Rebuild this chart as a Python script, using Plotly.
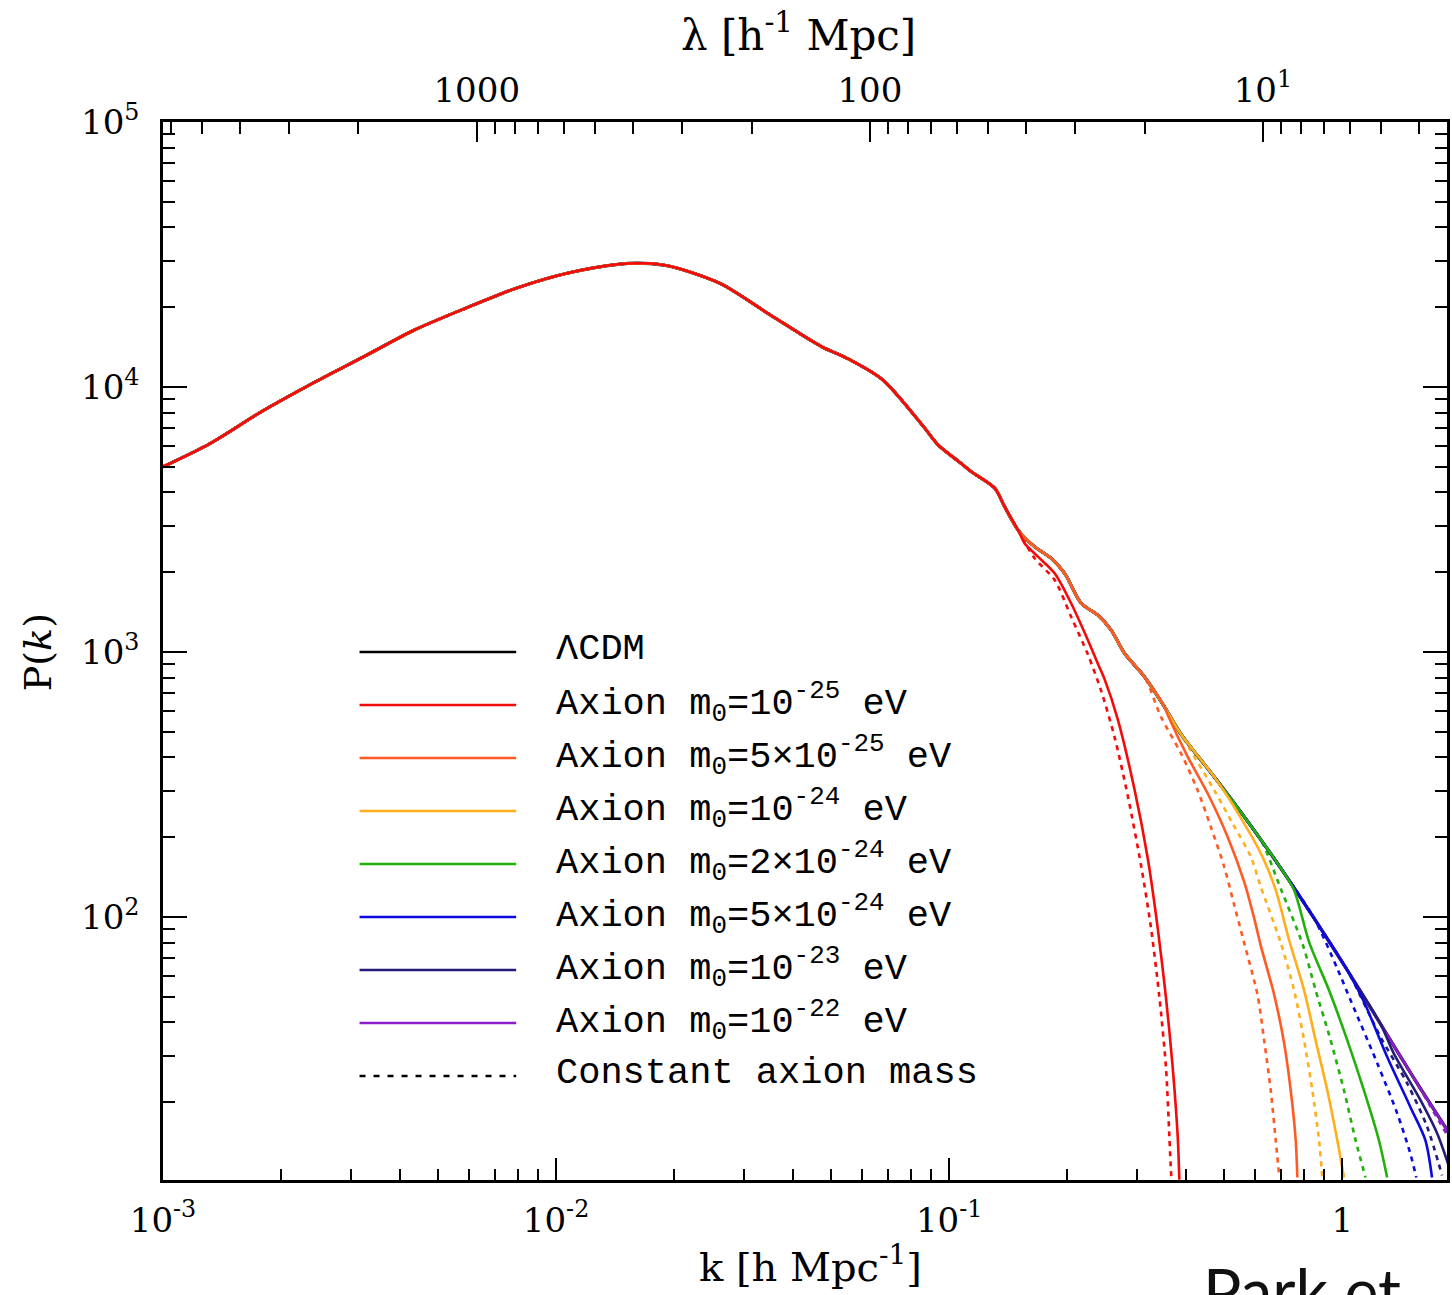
import math
import plotly.graph_objects as go

# ---------------- data ----------------
# LambdaCDM / common envelope
main_k = [0.001, 0.00132, 0.00178, 0.0024, 0.00324, 0.00436, 0.00588, 0.00791,
          0.01066, 0.01436, 0.0167, 0.01936, 0.0261, 0.0351, 0.0474, 0.055,
          0.0678, 0.0861, 0.0938, 0.1055, 0.1139, 0.1306, 0.1384, 0.1497,
          0.165, 0.1818, 0.1966, 0.2167, 0.2388, 0.2582, 0.2793, 0.3139,
          0.3527, 0.3887, 0.4724, 0.5739, 0.6973, 0.8476, 1.03, 1.251, 1.52, 1.87]
main_p = [5000, 6130, 8070, 10320, 13010, 16410, 19820, 23580,
          26860, 29040, 29300, 28620, 24620, 18690, 14190, 12830,
          10630, 7080, 6040, 5250, 4790, 4150, 3533, 2884,
          2495, 2257, 1982, 1527, 1379, 1211, 989, 807,
          622, 490, 338, 230, 153, 99, 63, 39.5, 24.7, 15.3]

# Axion m0 = 1e-25 eV
red_k = [0.1556, 0.1682, 0.1855, 0.2043, 0.2253, 0.2388, 0.2485, 0.2685, 0.296,
         0.32, 0.3392, 0.356, 0.3703, 0.3814, 0.3851]
red_p = [2570, 2289, 1982, 1527, 1110, 905, 790, 557, 304,
         166.5, 91, 49.8, 27.2, 14.9, 10.2]
red_dot_k = [0.165, 0.1855, 0.2043, 0.2253, 0.2435, 0.2634, 0.2847, 0.3077, 0.3262,
             0.3426, 0.356, 0.3632, 0.3666, 0.368]
red_dot_p = [2257, 1869, 1359, 980, 715, 478.6, 286.7, 156.7, 91,
             49.8, 27.2, 14.9, 11.0, 10.2]

# Axion m0 = 5e-25 eV
orange_k = [0.3596, 0.4043, 0.4544, 0.5108, 0.5628, 0.5969, 0.6204, 0.6709, 0.7112,
            0.7394, 0.7613, 0.7688]
orange_p = [580, 403, 293, 201, 136, 99, 78, 51, 33.5, 22.2, 14.4, 10.4]
orange_dot_k = [0.3457, 0.3887, 0.4285, 0.463, 0.5008, 0.5311, 0.5628, 0.6085, 0.6328,
                0.6577, 0.6772, 0.691]
orange_dot_p = [570, 415, 301, 219, 154.8, 111, 80, 51, 34.3, 22.2, 14.4, 10.6]

# Axion m0 = 1e-24 eV
yellow_k = [0.5628, 0.6266, 0.6772, 0.7325, 0.7995, 0.8554, 0.916, 0.9712, 1.01]
yellow_p = [225.7, 168.9, 126.5, 81.9, 53, 34.3, 22.2, 14.4, 10.4]
yellow_dot_k = [0.4724, 0.5259, 0.5852, 0.6204, 0.6973, 0.7538, 0.7995, 0.8393, 0.8727, 0.8897]
yellow_dot_p = [301, 225.7, 168.9, 130, 80, 53, 34.3, 22.2, 14.4, 10.4]

# Axion m0 = 2e-24 eV
green_k = [0.7538, 0.8245, 0.925, 1.0297, 1.135, 1.239, 1.3007]
green_p = [126.5, 80, 53, 34.3, 22.2, 14.4, 10.4]
green_dot_k = [0.6266, 0.6973, 0.794, 0.8554, 0.934, 1.01, 1.081, 1.146]
green_dot_p = [190, 128, 78.4, 53, 34.3, 22.2, 14.4, 10.4]

# Axion m0 = 5e-24 eV
blue_k = [1.135, 1.3007, 1.49, 1.627, 1.692]
blue_p = [48, 29.7, 19.2, 14.4, 10.4]
blue_dot_k = [0.971, 1.0297, 1.227, 1.379, 1.49, 1.5435]
blue_dot_p = [64, 52, 28.1, 18.2, 12.8, 10.4]

# Axion m0 = 1e-23 eV
navy_k = [1.353, 1.58, 1.742, 1.87]
navy_p = [30.5, 20.4, 15.3, 11.4]
navy_dot_k = [1.251, 1.462, 1.643, 1.794]
navy_dot_p = [35.3, 23.6, 16.2, 10.6]

# Axion m0 = 1e-22 eV (follows the envelope)
purple_k = [1.87]
purple_p = [15.3]
purple_dot_k = [1.87]
purple_dot_p = [14.6]

x_ticks = [0.001, 0.01, 0.1, 1]
x_ticktext = ["10<sup>-3</sup>", "10<sup>-2</sup>", "10<sup>-1</sup>", "1"]
y_ticks = [100, 1000, 10000, 100000]
y_ticktext = ["10<sup>2</sup>", "10<sup>3</sup>", "10<sup>4</sup>", "10<sup>5</sup>"]
lam_ticks = [1000, 100, 10]
lam_ticktext = ["1000", "100", "10<sup>1</sup>"]

legend_labels = [
    "ΛCDM",
    "Axion m<sub>0</sub>=10<sup>-25</sup> eV",
    "Axion m<sub>0</sub>=5×10<sup>-25</sup> eV",
    "Axion m<sub>0</sub>=10<sup>-24</sup> eV",
    "Axion m<sub>0</sub>=2×10<sup>-24</sup> eV",
    "Axion m<sub>0</sub>=5×10<sup>-24</sup> eV",
    "Axion m<sub>0</sub>=10<sup>-23</sup> eV",
    "Axion m<sub>0</sub>=10<sup>-22</sup> eV",
    "Constant axion mass",
]

# ---------------- styling ----------------
C_BLACK = "#000000"
C_RED = "#f50a0a"
C_ORANGE = "#ff5a24"
C_YELLOW = "#ffae1c"
C_GREEN = "#22b00a"
C_BLUE = "#0a0ade"
C_NAVY = "#241c78"
C_PURPLE = "#8c1ccc"
legend_colors = [C_BLACK, C_RED, C_ORANGE, C_YELLOW, C_GREEN, C_BLUE, C_NAVY, C_PURPLE, C_BLACK]

W, H = 1452, 1295
L, R, T, B = 163, 2, 122, 115
PW, PH = W - L - R, H - T - B
XMIN = -3.0
XMAX = XMIN + PW / 394.0
YMAX = 5.0
YMIN = YMAX - PH / 265.0

SERIF = "DejaVu Serif"
MONO = "Liberation Mono"
LW = 2.6
DOT = "5px,5px"


def join(tail_k, tail_p):
    ks = [k for k in main_k if k < tail_k[0]]
    ps = [p for k, p in zip(main_k, main_p) if k < tail_k[0]]
    return ks + list(tail_k), ps + list(tail_p)


fig = go.Figure()


def add(tk, tp, color, dash=None):
    xs, ys = join(tk, tp)
    fig.add_trace(go.Scatter(
        x=xs, y=ys, mode="lines", showlegend=False, hoverinfo="skip",
        line=dict(color=color, width=LW, dash=dash, shape="spline", smoothing=0.8),
    ))


# LambdaCDM underneath
fig.add_trace(go.Scatter(x=main_k, y=main_p, mode="lines", showlegend=False,
                         line=dict(color=C_BLACK, width=LW + 0.6, shape="spline", smoothing=0.8)))

# dotted (constant axion mass)
add(purple_dot_k, purple_dot_p, C_PURPLE, DOT)
add(navy_dot_k, navy_dot_p, C_NAVY, DOT)
add(blue_dot_k, blue_dot_p, C_BLUE, DOT)
add(green_dot_k, green_dot_p, C_GREEN, DOT)
add(yellow_dot_k, yellow_dot_p, C_YELLOW, DOT)
add(orange_dot_k, orange_dot_p, C_ORANGE, DOT)
add(red_dot_k, red_dot_p, C_RED, DOT)

# solid (time-varying axion mass)
add(purple_k, purple_p, C_PURPLE)
add(navy_k, navy_p, C_NAVY)
add(blue_k, blue_p, C_BLUE)
add(green_k, green_p, C_GREEN)
add(yellow_k, yellow_p, C_YELLOW)
add(orange_k, orange_p, C_ORANGE)
add(red_k, red_p, C_RED)

# invisible trace to activate the top (wavelength) axis
fig.add_trace(go.Scatter(x=[100], y=[1000], xaxis="x2", yaxis="y", mode="markers",
                         marker=dict(opacity=0), showlegend=False, hoverinfo="skip"))

tickfont = dict(family=SERIF, size=34, color="black")

fig.update_layout(
    width=W, height=H,
    margin=dict(l=L, r=R, t=T, b=B),
    paper_bgcolor="white", plot_bgcolor="white",
    showlegend=False,
    xaxis=dict(
        type="log", range=[XMIN, XMAX], showgrid=False, zeroline=False,
        showline=True, linecolor="black", linewidth=2.5, mirror=False,
        ticks="inside", ticklen=22, tickwidth=2, tickcolor="black",
        tickmode="array", tickvals=x_ticks, ticktext=x_ticktext,
        tickfont=tickfont, ticklabelstandoff=8,
        minor=dict(ticks="inside", ticklen=11, tickwidth=2, tickcolor="black",
                   dtick="D1", showgrid=False),
    ),
    xaxis2=dict(
        type="log", overlaying="x", side="top", anchor="y",
        range=[math.log10(2 * math.pi) - XMIN, math.log10(2 * math.pi) - XMAX],
        showgrid=False, zeroline=False,
        showline=True, linecolor="black", linewidth=2.5,
        ticks="inside", ticklen=20, tickwidth=2, tickcolor="black",
        tickmode="array", tickvals=lam_ticks, ticktext=lam_ticktext,
        tickfont=tickfont, ticklabelstandoff=4,
        minor=dict(ticks="inside", ticklen=12, tickwidth=2, tickcolor="black",
                   dtick="D1", showgrid=False),
    ),
    yaxis=dict(
        type="log", range=[YMIN, YMAX], showgrid=False, zeroline=False,
        showline=True, linecolor="black", linewidth=2.5, mirror="ticks",
        ticks="inside", ticklen=24, tickwidth=2, tickcolor="black",
        tickmode="array", tickvals=y_ticks, ticktext=y_ticktext,
        tickfont=tickfont, ticklabelstandoff=14,
        minor=dict(ticks="inside", ticklen=12, tickwidth=2, tickcolor="black",
                   dtick="D1", showgrid=False),
    ),
)


def px2paper_x(px):
    return (px - L) / PW


def px2paper_y(py):
    return (H - B - py) / PH


# manual legend
rows = [652, 705, 758, 811, 864, 917, 970, 1023, 1076]
for i, (lab, col, ry) in enumerate(zip(legend_labels, legend_colors, rows)):
    fig.add_shape(type="line", xref="paper", yref="paper",
                  x0=px2paper_x(360), x1=px2paper_x(517),
                  y0=px2paper_y(ry), y1=px2paper_y(ry),
                  line=dict(color=col, width=2.6,
                            dash="6px,8px" if i == len(rows) - 1 else "solid"))
    fig.add_annotation(xref="paper", yref="paper", x=px2paper_x(555), y=px2paper_y(ry - 3),
                       xanchor="left", yanchor="middle", showarrow=False, text=lab,
                       font=dict(family=MONO, size=37, color="black"))

# axis titles
fig.add_annotation(xref="paper", yref="paper", x=px2paper_x(800), y=px2paper_y(32),
                   xanchor="center", yanchor="middle", showarrow=False,
                   text="λ [h<sup>-1</sup> Mpc]", font=dict(family=SERIF, size=42, color="black"))
fig.add_annotation(xref="paper", yref="paper", x=px2paper_x(812), y=px2paper_y(1264),
                   xanchor="center", yanchor="middle", showarrow=False,
                   text="k [h Mpc<sup>-1</sup>]", font=dict(family=SERIF, size=40, color="black"))
fig.add_annotation(xref="paper", yref="paper", x=px2paper_x(38), y=px2paper_y(652),
                   xanchor="center", yanchor="middle", showarrow=False, textangle=-90,
                   text="P(<i>k</i>)", font=dict(family=SERIF, size=38, color="black"))
fig.add_annotation(xref="paper", yref="paper", x=px2paper_x(1203), y=px2paper_y(1250),
                   xanchor="left", yanchor="top", showarrow=False,
                   text="Park et", font=dict(family="Lato", size=64, color="#111111"))

fig.write_html("out.html")
